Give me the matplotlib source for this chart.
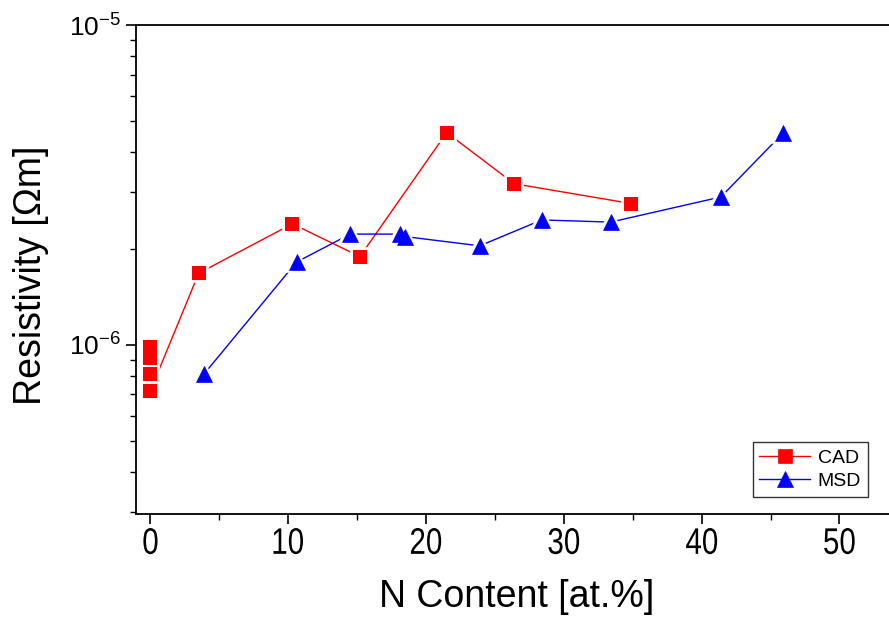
import matplotlib
matplotlib.use("Agg")
import matplotlib.pyplot as plt
from matplotlib.ticker import LogLocator, FixedLocator, MultipleLocator, NullFormatter
from matplotlib import font_manager
from matplotlib.font_manager import FontProperties
from matplotlib.textpath import TextPath
from matplotlib.patches import PathPatch
from matplotlib.transforms import Affine2D, IdentityTransform

# CAD series: N content [at.%] and resistivity [Ohm m]
cad_n = [0.0, 0.0, 0.0, 0.0, 3.5, 10.3, 15.2, 21.5, 26.4, 34.9]
cad_rho = [0.984e-6, 0.913e-6, 0.812e-6, 0.72e-6, 1.675e-6, 2.39e-6,
           1.888e-6, 4.61e-6, 3.19e-6, 2.765e-6]

# MSD series
msd_n = [3.9, 10.6, 14.5, 18.1, 18.5, 23.9, 28.4, 33.4, 41.4, 45.9]
msd_rho = [0.812e-6, 1.815e-6, 2.22e-6, 2.22e-6, 2.18e-6, 2.04e-6,
           2.458e-6, 2.42e-6, 2.90e-6, 4.59e-6]

x_ticks = [0, 10, 20, 30, 40, 50]
y_ticks = [1e-6, 1e-5]
y_tick_labels = [r"$\mathregular{10^{-6}}$", r"$\mathregular{10^{-5}}$"]

installed = {f.name for f in font_manager.fontManager.ttflist}
base_font = "Liberation Sans" if "Liberation Sans" in installed else "DejaVu Sans"
plt.rcParams["font.family"] = [base_font, "DejaVu Sans"]
plt.rcParams["mathtext.fontset"] = "custom"
plt.rcParams["mathtext.rm"] = base_font

W, H = 889, 618
fig = plt.figure(figsize=(W / 100, H / 100), dpi=100)
ax = fig.add_axes([136 / W, 1 - 514 / H, 753 / W, 489 / H])

# lines with markers (used for the legend)
ax.plot(cad_n, cad_rho, color="red", lw=1.0, marker="s", ms=10,
        mfc="red", mec="red", mew=0.5, label="CAD", zorder=2)
ax.plot(msd_n, msd_rho, color="blue", lw=1.0, marker="^", ms=12,
        mfc="blue", mec="blue", mew=0.5, label="MSD", zorder=2)
# white underlay that opens a small gap between the lines and the symbols
ax.plot(cad_n, cad_rho, ls="none", marker="s", ms=9.8, mfc="white", mec="white",
        mew=4, zorder=2.5)
ax.plot(msd_n, msd_rho, ls="none", marker="^", ms=12, mfc="white", mec="white",
        mew=4, zorder=2.5)
# symbols on top
ax.plot(cad_n, cad_rho, ls="none", marker="s", ms=9.8, mfc="red", mec="none",
        mew=0, zorder=3)
ax.plot(msd_n, msd_rho, ls="none", marker="^", ms=12, mfc="blue", mec="blue",
        mew=0.5, zorder=3)

ax.set_yscale("log")
ax.set_xlim(-1.05, 53.6)
ax.set_ylim(2.96e-7, 1e-5)

ax.xaxis.set_major_locator(FixedLocator(x_ticks))
ax.xaxis.set_minor_locator(MultipleLocator(5))
ax.xaxis.set_major_formatter(NullFormatter())

ax.yaxis.set_major_locator(FixedLocator(y_ticks))
ax.set_yticklabels(y_tick_labels, fontsize=19)
ax.yaxis.set_minor_locator(LogLocator(base=10, subs=range(2, 10)))
ax.yaxis.set_minor_formatter(NullFormatter())

ax.tick_params(which="major", direction="out", length=7, width=1.2)
ax.tick_params(which="minor", direction="out", length=4, width=1.0)
ax.tick_params(axis="y", which="major", pad=4)

for side in ("left", "bottom", "top"):
    ax.spines[side].set_linewidth(1.3)
ax.spines["right"].set_visible(False)

# condensed x tick labels drawn as glyph outlines
fp = FontProperties(family=base_font)
for t in x_ticks:
    tp = TextPath((0, 0), str(t), size=37, prop=fp)
    ext = tp.get_extents()
    cx = (ext.x0 + ext.x1) / 2
    px = ax.transData.transform((t, 1e-6))[0]
    tr = Affine2D().translate(-cx, -ext.y1).scale(0.8, 1.0).translate(px, H - 528)
    fig.add_artist(PathPatch(tr.transform_path(tp), facecolor="black",
                             edgecolor="none", transform=IdentityTransform()))

fig.text(517 / W, 1 - 597 / H, "N Content [at.%]", fontsize=27,
         ha="center", va="center")
fig.text(31 / W, 1 - 275 / H, "Resistivity [Ωm]", fontsize=27,
         ha="center", va="center", rotation=90)

leg = ax.legend(loc="lower right", bbox_to_anchor=(0.972, 0.035), fontsize=14,
                frameon=True, fancybox=False, edgecolor="black",
                handlelength=2.6, handletextpad=0.4, borderpad=0.35,
                labelspacing=0.3, borderaxespad=0)
leg.get_frame().set_linewidth(1.0)

fig.savefig("out.png", dpi=100)
